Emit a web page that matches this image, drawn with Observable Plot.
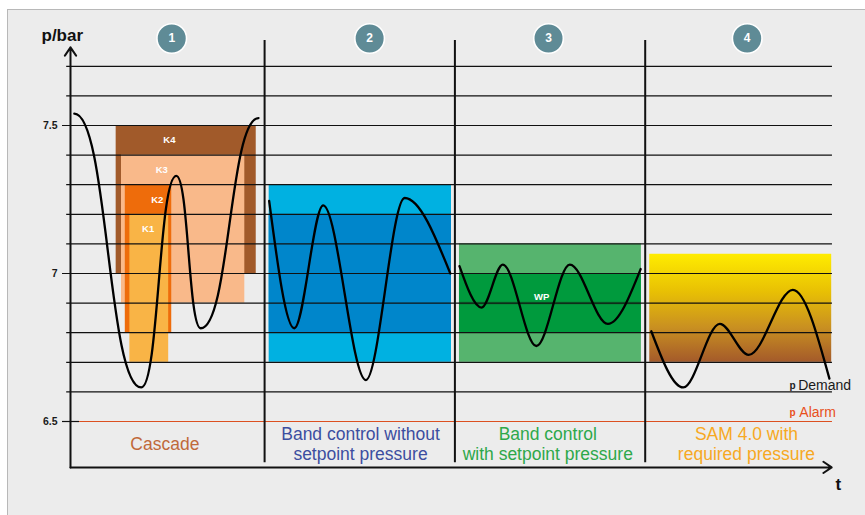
<!DOCTYPE html>
<html>
<head>
<meta charset="utf-8">
<script src="https://cdn.jsdelivr.net/npm/d3@7"></script>
<script src="https://cdn.jsdelivr.net/npm/@observablehq/plot@0.6"></script>
<style>
  html, body { margin: 0; padding: 0; background: #ffffff; }
  #wrap { position: relative; width: 865px; height: 515px; overflow: hidden; }
  #card { position: absolute; left: 7px; top: 9px; right: -4px; bottom: -4px;
          background: #ececec; border: 1.5px solid #b8b8b8; }
  #chart { position: absolute; left: 0; top: 0; }
</style>
</head>
<body>
<div id="wrap"><div id="card"></div><div id="chart"></div></div>
<script>
// Pressure axis (bar) and reference levels
const yTicks = [6.5, 7, 7.5];
const gridLevels = [6.6, 6.7, 6.8, 6.9, 7.0, 7.1, 7.2, 7.3, 7.4, 7.5, 7.6, 7.7];
const majorLevels = [7.0, 7.5];
const alarmLevel = 6.5;

// Time axis: four control strategies, one quarter each
const sectionBounds = [25, 50, 75];
const badgeLabels = ["1", "2", "3", "4"];
const badgeT = [12.8, 38.8, 62.3, 88.4];
const sectionTitles = [
  "Cascade",
  "Band control without\nsetpoint pressure",
  "Band control\nwith setpoint pressure",
  "SAM 4.0 with\nrequired pressure"
];
const sectionTitleT = [11.9, 37.6, 62.2, 88.3];
const sectionTitleColors = ["#c0693a", "#3c4ea0", "#2ea84a", "#f7a823"];

// Pressure demand curve, one segment per strategy (turning points)
const demandSection = [1, 1, 1, 1, 1, 2, 2, 2, 2, 2, 2, 3, 3, 3, 3, 3, 3, 3, 4, 4, 4, 4, 4, 4];
const demandT = [0.0, 8.8, 13.4, 16.6, 24.2,
                 25.6, 28.9, 32.7, 38.3, 43.4, 49.4,
                 50.6, 53.5, 56.3, 60.7, 65.1, 70.1, 74.4,
                 75.8, 80.0, 84.8, 88.6, 94.4, 99.2];
const demandP = [7.54, 6.615, 7.33, 6.815, 7.525,
                 7.245, 6.815, 7.23, 6.64, 7.255, 7.0,
                 7.025, 6.885, 7.03, 6.755, 7.03, 6.83, 7.015,
                 6.805, 6.615, 6.83, 6.725, 6.945, 6.645];

// 1: cascade of four compressors K4..K1
const cascadeStages = ["K4", "K3", "K2", "K1"];
const cascadeStart = [5.5, 6.2, 6.7, 7.3];
const cascadeEnd = [23.9, 22.4, 12.8, 12.4];
const cascadeHigh = [7.5, 7.4, 7.3, 7.2];
const cascadeLow = [7.0, 6.9, 6.8, 6.7];
const cascadeColors = ["#a15a2a", "#f9b98a", "#ee6c0b", "#f9b446"];
const cascadeLabelT = [12.5, 11.5, 10.9, 9.7];
const cascadeLabelP = [7.45, 7.35, 7.25, 7.15];

// 2: band control without setpoint
const band2Span = [25.6, 49.55];
const band2Outer = [6.7, 7.3];
const band2Inner = [6.8, 7.2];

// 3: band control with setpoint (WP)
const band3Span = [50.6, 74.5];
const band3Outer = [6.7, 7.1];
const band3Inner = [6.8, 7.0];
const band3Setpoint = 6.9;

// 4: SAM 4.0, required pressure band
const band4Span = [75.6, 99.5];
const band4Range = [6.7, 7.065];

const demand = demandT.map((t, i) => ({t, p: demandP[i], s: demandSection[i]}));
const cascade = cascadeStages.map((k, i) => ({
  k, t1: cascadeStart[i], t2: cascadeEnd[i], hi: cascadeHigh[i], lo: cascadeLow[i],
  color: cascadeColors[i], lt: cascadeLabelT[i], lp: cascadeLabelP[i]
}));
const badges = badgeLabels.map((n, i) => ({n, t: badgeT[i]}));
const titles = sectionTitles.map((text, i) => ({text, t: sectionTitleT[i], color: sectionTitleColors[i]}));

// vertical gradient used by the SAM band
const gradientDefs = () => {
  const defs = d3.create("svg:defs");
  const g = defs.append("linearGradient").attr("id", "samFill")
    .attr("x1", 0).attr("y1", 0).attr("x2", 0).attr("y2", 1);
  [["0%", "#ffec00"], ["35%", "#e8c004"], ["68%", "#c99021"], ["100%", "#a45a2a"]]
    .forEach(([o, c]) => g.append("stop").attr("offset", o).attr("stop-color", c));
  return defs.node();
};

const axisBase = 6.345, axisTop = 7.764, axisStart = -0.5, axisEnd = 99.5;
const topP = 7.787, bottomP = 6.361;

const chart = Plot.plot({
  width: 865,
  height: 515,
  marginLeft: 62,
  marginRight: 0,
  marginTop: 0,
  marginBottom: 0,
  style: {background: "transparent", fontFamily: "'Liberation Sans', Arial, sans-serif", overflow: "visible"},
  x: {domain: [0, 100], range: [73.8, 835], axis: null},
  y: {domain: [6.5, 7.5], range: [421, 125]},
  marks: [
    gradientDefs,
    // cascade stages
    Plot.rect(cascade, {x1: "t1", x2: "t2", y1: "lo", y2: "hi", fill: "color"}),
    // band control without setpoint
    Plot.rect([band2Span], {x1: d => d[0], x2: d => d[1], y1: band2Outer[0], y2: band2Outer[1], fill: "#00b1e1"}),
    Plot.rect([band2Span], {x1: d => d[0], x2: d => d[1], y1: band2Inner[0], y2: band2Inner[1], fill: "#0086cb"}),
    // band control with setpoint
    Plot.rect([band3Span], {x1: d => d[0], x2: d => d[1], y1: band3Outer[0], y2: band3Outer[1], fill: "#56b46e"}),
    Plot.rect([band3Span], {x1: d => d[0], x2: d => d[1], y1: band3Inner[0], y2: band3Inner[1], fill: "#009a3d"}),
    Plot.ruleY([band3Setpoint], {x1: band3Span[0], x2: band3Span[1], stroke: "#078637", strokeWidth: 3.4}),
    // SAM required pressure band
    Plot.rect([band4Span], {x1: d => d[0], x2: d => d[1], y1: band4Range[0], y2: band4Range[1], fill: "url(#samFill)"}),
    // pressure grid
    Plot.ruleY(gridLevels.filter(v => !majorLevels.includes(v)), {x1: -1.0, x2: 99.6, stroke: "#111", strokeWidth: 1.2}),
    Plot.ruleY(majorLevels, {x1: -1.55, x2: 99.6, stroke: "#111", strokeWidth: 1.2}),
    Plot.ruleY([alarmLevel], {x1: -1.55, x2: 0.7, stroke: "#111", strokeWidth: 1.2}),
    Plot.ruleY([alarmLevel], {x1: 0.7, x2: 99.6, stroke: "#dc5020", strokeWidth: 1.2}),
    // stage labels
    Plot.text(cascade, {x: "lt", y: "lp", text: "k", fill: "white", fontWeight: "bold", fontSize: 9.5}),
    Plot.text(["WP"], {x: 61.4, y: 6.922, text: d => d, fill: "white", fontWeight: "bold", fontSize: 9.5}),
    // strategy separators
    Plot.ruleX(sectionBounds, {y1: bottomP, y2: topP, stroke: "#111", strokeWidth: 2}),
    // axes with arrow heads
    Plot.arrow([0], {x1: axisStart, x2: axisStart, y1: axisBase, y2: axisTop, stroke: "#111", strokeWidth: 2, headLength: 7.5, headAngle: 68}),
    Plot.arrow([0], {x1: axisStart, x2: axisEnd, y1: axisBase, y2: axisBase, stroke: "#111", strokeWidth: 2, headLength: 7.5, headAngle: 68}),
    Plot.axisY({ticks: yTicks, tickFormat: d => String(d), tickSize: 0, tickPadding: 5, fontWeight: "bold", fontSize: 10.5, label: null, anchor: "left", color: "#1a1a1a"}),
    // demand pressure curve: the cascade swing starts from a crest
    Plot.line(demand.filter(d => d.s === 1), {x: "t", y: "p", curve: "bump-x", stroke: "#000", strokeWidth: 2.3}),
    Plot.line(demand.filter(d => d.s !== 1), {x: "t", y: "p", z: "s", curve: "monotone-x", stroke: "#000", strokeWidth: 2.3}),
    // strategy badges
    Plot.dot(badges, {x: "t", y: 7.794, r: 14.8, fill: "#5f8b96", stroke: "white", strokeWidth: 1.6}),
    Plot.text(badges, {x: "t", y: 7.794, text: "n", fill: "white", fontWeight: "bold", fontSize: 12}),
    // strategy titles
    Plot.text(titles, {x: "t", y: 6.424, text: "text", fill: "color", fontSize: 17.5, lineHeight: 1.15}),
    // axis titles
    Plot.text(["p/bar"], {x: -4.31, y: 7.805, text: d => d, textAnchor: "start", fontWeight: "bold", fontSize: 17, fill: "#111"}),
    Plot.text(["t"], {x: 100.38, y: 6.2885, text: d => d, fontWeight: "bold", fontSize: 17, fill: "#111"}),
    // legend for the two reference pressures
    Plot.text(["p"], {x: 93.95, y: 6.622, text: d => d, textAnchor: "start", fontWeight: "bold", fontSize: 10, fill: "#222"}),
    Plot.text(["Demand"], {x: 95.1, y: 6.623, text: d => d, textAnchor: "start", fontSize: 14, fill: "#1a1a1a"}),
    Plot.text(["p"], {x: 93.95, y: 6.528, text: d => d, textAnchor: "start", fontWeight: "bold", fontSize: 10, fill: "#e8501c"}),
    Plot.text(["Alarm"], {x: 95.25, y: 6.529, text: d => d, textAnchor: "start", fontSize: 14, fill: "#e8501c"})
  ]
});

document.getElementById("chart").appendChild(chart);
</script>
</body>
</html>
